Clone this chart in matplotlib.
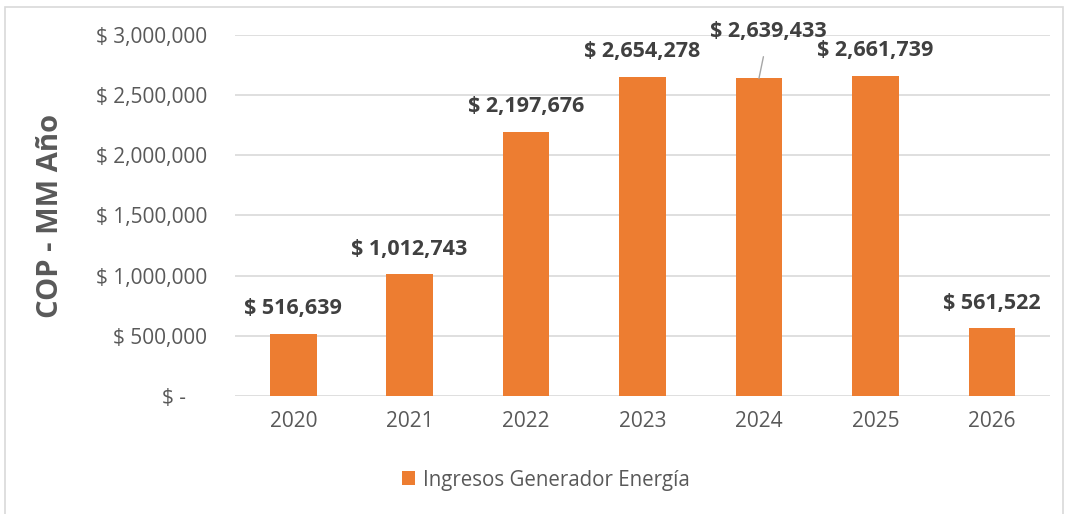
import matplotlib.pyplot as plt
from matplotlib.patches import Rectangle

# datos
years = ["2020", "2021", "2022", "2023", "2024", "2025", "2026"]
ingresos = [516639, 1012743, 2197676, 2654278, 2639433, 2661739, 561522]
yticks = [0, 500000, 1000000, 1500000, 2000000, 2500000, 3000000]

plt.rcParams["font.family"] = ["Open Sans", "DejaVu Sans"]

fig = plt.figure(figsize=(10.66, 5.14), dpi=100)
ax = fig.add_axes([0.2205, 0.2296, 0.7645, 0.7023])

x = range(len(years))
bars = ax.bar(x, ingresos, width=0.4, color="#ED7D31", zorder=3,
              label="Ingresos Generador Energía")

ax.set_xlim(-0.5, len(years) - 0.5)
ax.set_ylim(0, 3000000)
ax.set_yticks(yticks)
ax.set_yticklabels([f"$ {v:,}" if v else "$ -    " for v in yticks])
ax.set_xticks(list(x))
ax.set_xticklabels(years)
ax.tick_params(axis="both", length=0, colors="#595959", labelsize=15)
ax.tick_params(axis="y", pad=20)
ax.tick_params(axis="x", pad=11)
ax.grid(axis="y", color="#D9D9D9", linewidth=1.2, zorder=0)
for s in ax.spines.values():
    s.set_visible(False)

ax.set_ylabel("COP - MM Año", fontsize=21, fontweight="bold", color="#595959",
              labelpad=22)

# etiquetas de datos
for i, v in enumerate(ingresos):
    if years[i] == "2024":
        ax.annotate(f"$ {v:,}", xy=(i, v), xytext=(7, 34), textcoords="offset points",
                    ha="center", va="center", fontsize=15.5, fontweight="bold",
                    color="#404040", annotation_clip=False,
                    arrowprops=dict(arrowstyle="-", color="#A6A6A6", lw=1,
                                    shrinkA=9, shrinkB=0))
    else:
        ax.annotate(f"$ {v:,}", xy=(i, v), xytext=(0, 18), textcoords="offset points",
                    ha="center", va="center", fontsize=15.5, fontweight="bold",
                    color="#404040")

leg = fig.legend(loc="center", bbox_to_anchor=(0.512, 0.066), frameon=False,
                 fontsize=14.8, handlelength=0.65, handleheight=0.65, handletextpad=0.4)
for t in leg.get_texts():
    t.set_color("#595959")

# borde del grafico
fig.patches.append(Rectangle((0.005, -0.05), 0.992, 1.036, transform=fig.transFigure,
                             fill=False, edgecolor="#D9D9D9", linewidth=1.2))

fig.savefig("out.png", dpi=100, facecolor="white")
